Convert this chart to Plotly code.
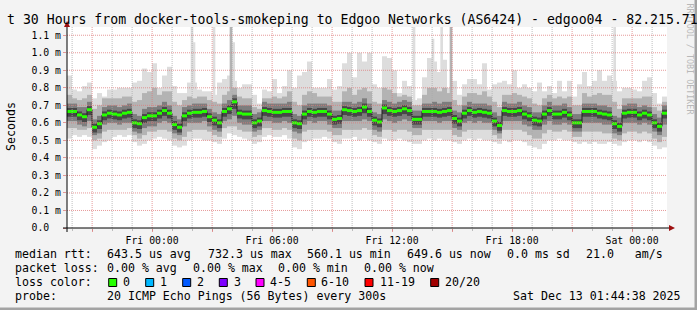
import plotly.graph_objects as go
import pandas as pd

# ------------------------------------------------------------------ data
start_time = "2025-12-11 19:44:38"
end_time = "2025-12-13 01:44:38"
bucket_minutes = 15

# median RTT per 15-minute bucket (ms)
median_rtt = [
    0.665, 0.665, 0.645, 0.635, 0.675, 0.575, 0.595, 0.645, 0.655, 0.650,
    0.645, 0.655, 0.660, 0.600, 0.595, 0.630, 0.640, 0.640, 0.655, 0.670,
    0.655, 0.590, 0.575, 0.640, 0.655, 0.660, 0.660, 0.665, 0.635, 0.615,
    0.600, 0.665, 0.680, 0.720, 0.655, 0.650, 0.650, 0.600, 0.610, 0.670,
    0.665, 0.660, 0.660, 0.665, 0.665, 0.600, 0.595, 0.650, 0.665, 0.660,
    0.665, 0.665, 0.650, 0.620, 0.625, 0.675, 0.670, 0.665, 0.670, 0.690,
    0.665, 0.615, 0.605, 0.685, 0.670, 0.665, 0.670, 0.680, 0.670, 0.620,
    0.620, 0.665, 0.665, 0.665, 0.660, 0.665, 0.670, 0.625, 0.610, 0.655,
    0.670, 0.660, 0.665, 0.660, 0.655, 0.610, 0.585, 0.670, 0.665, 0.665,
    0.670, 0.650, 0.640, 0.615, 0.610, 0.650, 0.670, 0.650, 0.650, 0.660,
    0.645, 0.600, 0.600, 0.665, 0.665, 0.665, 0.655, 0.650, 0.645, 0.595,
    0.580, 0.655, 0.660, 0.660, 0.645, 0.655, 0.645, 0.600, 0.580, 0.655,
]

# smoke: fastest / slowest ping per bucket (ms)
ping_min = [
    0.51, 0.53, 0.52, 0.53, 0.52, 0.45, 0.47, 0.49, 0.50, 0.52,
    0.53, 0.52, 0.53, 0.49, 0.47, 0.48, 0.50, 0.51, 0.52, 0.51,
    0.50, 0.47, 0.46, 0.47, 0.50, 0.51, 0.51, 0.50, 0.50, 0.49,
    0.48, 0.51, 0.54, 0.53, 0.52, 0.51, 0.50, 0.48, 0.49, 0.52,
    0.53, 0.52, 0.52, 0.53, 0.51, 0.46, 0.45, 0.49, 0.50, 0.51,
    0.51, 0.52, 0.51, 0.49, 0.48, 0.51, 0.51, 0.52, 0.50, 0.51,
    0.50, 0.49, 0.48, 0.51, 0.50, 0.50, 0.51, 0.50, 0.49, 0.48,
    0.48, 0.50, 0.51, 0.50, 0.51, 0.50, 0.50, 0.49, 0.48, 0.50,
    0.51, 0.50, 0.51, 0.50, 0.50, 0.49, 0.48, 0.50, 0.49, 0.50,
    0.50, 0.49, 0.47, 0.46, 0.45, 0.48, 0.50, 0.50, 0.51, 0.50,
    0.50, 0.49, 0.48, 0.49, 0.48, 0.49, 0.48, 0.48, 0.49, 0.48,
    0.47, 0.49, 0.50, 0.50, 0.49, 0.50, 0.49, 0.47, 0.45, 0.46,
]
ping_max = [
    0.87, 0.79, 0.78, 0.81, 0.83, 0.74, 0.77, 0.75, 0.79, 0.79,
    0.80, 0.80, 0.80, 0.83, 0.84, 0.91, 0.89, 0.94, 0.80, 0.87,
    0.92, 0.81, 0.77, 0.77, 0.83, 0.83, 0.79, 0.78, 0.78, 0.76,
    0.83, 0.85, 0.87, 0.84, 0.80, 0.82, 0.82, 0.76, 0.71, 0.79,
    0.78, 0.85, 0.77, 0.81, 0.90, 0.80, 0.87, 0.89, 0.95, 0.80,
    0.80, 0.80, 0.85, 0.79, 0.81, 0.94, 1.00, 0.86, 1.00, 0.95,
    1.00, 0.82, 0.80, 0.98, 0.97, 0.90, 0.77, 0.84, 0.81, 0.73,
    0.74, 0.86, 0.97, 0.95, 0.89, 0.96, 0.80, 0.84, 0.76, 0.82,
    0.85, 0.85, 0.82, 0.94, 0.79, 0.82, 0.83, 0.84, 0.82, 0.90,
    0.80, 0.82, 0.80, 0.78, 0.83, 0.78, 0.81, 0.77, 0.84, 0.78,
    0.84, 0.75, 0.82, 0.89, 0.81, 0.84, 0.90, 0.84, 0.87, 0.84,
    0.78, 0.80, 0.80, 0.79, 0.78, 0.84, 0.86, 0.77, 0.71, 0.75,
]
# 2nd / 19th ping
smoke2_lo = [
    0.57, 0.57, 0.56, 0.56, 0.57, 0.50, 0.51, 0.55, 0.56, 0.56,
    0.56, 0.56, 0.57, 0.53, 0.51, 0.53, 0.55, 0.55, 0.56, 0.56,
    0.55, 0.51, 0.50, 0.52, 0.55, 0.56, 0.56, 0.56, 0.55, 0.53,
    0.52, 0.57, 0.58, 0.58, 0.56, 0.55, 0.55, 0.52, 0.53, 0.57,
    0.57, 0.56, 0.56, 0.57, 0.56, 0.51, 0.50, 0.55, 0.56, 0.56,
    0.56, 0.56, 0.55, 0.53, 0.53, 0.56, 0.56, 0.56, 0.56, 0.57,
    0.56, 0.53, 0.52, 0.56, 0.56, 0.55, 0.56, 0.56, 0.55, 0.53,
    0.53, 0.56, 0.56, 0.56, 0.56, 0.56, 0.56, 0.53, 0.52, 0.55,
    0.56, 0.56, 0.56, 0.56, 0.56, 0.53, 0.51, 0.56, 0.56, 0.56,
    0.56, 0.55, 0.53, 0.51, 0.51, 0.54, 0.56, 0.55, 0.55, 0.56,
    0.55, 0.52, 0.52, 0.55, 0.55, 0.55, 0.55, 0.54, 0.54, 0.51,
    0.50, 0.54, 0.55, 0.55, 0.54, 0.55, 0.54, 0.51, 0.49, 0.52,
]
smoke2_hi = [
    0.76, 0.74, 0.73, 0.74, 0.76, 0.68, 0.70, 0.74, 0.74, 0.74,
    0.74, 0.75, 0.75, 0.72, 0.73, 0.77, 0.78, 0.80, 0.76, 0.78,
    0.78, 0.72, 0.70, 0.73, 0.75, 0.74, 0.75, 0.75, 0.73, 0.72,
    0.71, 0.76, 0.78, 0.80, 0.75, 0.74, 0.74, 0.69, 0.68, 0.74,
    0.74, 0.75, 0.74, 0.75, 0.78, 0.72, 0.70, 0.76, 0.78, 0.77,
    0.75, 0.75, 0.75, 0.72, 0.72, 0.78, 0.80, 0.76, 0.79, 0.80,
    0.78, 0.72, 0.71, 0.80, 0.79, 0.77, 0.75, 0.76, 0.75, 0.70,
    0.70, 0.76, 0.80, 0.80, 0.78, 0.80, 0.77, 0.73, 0.70, 0.75,
    0.77, 0.77, 0.76, 0.78, 0.75, 0.72, 0.69, 0.76, 0.76, 0.77,
    0.76, 0.75, 0.74, 0.71, 0.70, 0.74, 0.76, 0.74, 0.75, 0.74,
    0.75, 0.70, 0.70, 0.77, 0.75, 0.76, 0.77, 0.76, 0.76, 0.72,
    0.68, 0.74, 0.74, 0.74, 0.74, 0.75, 0.75, 0.69, 0.67, 0.72,
]
# 5th / 16th ping
smoke3_lo = [
    0.61, 0.61, 0.59, 0.58, 0.61, 0.53, 0.54, 0.59, 0.60, 0.60,
    0.59, 0.60, 0.60, 0.55, 0.54, 0.57, 0.58, 0.58, 0.60, 0.61,
    0.60, 0.54, 0.53, 0.58, 0.60, 0.60, 0.60, 0.61, 0.58, 0.56,
    0.55, 0.61, 0.62, 0.64, 0.60, 0.59, 0.59, 0.55, 0.56, 0.61,
    0.61, 0.60, 0.60, 0.61, 0.60, 0.55, 0.54, 0.59, 0.61, 0.60,
    0.61, 0.61, 0.59, 0.57, 0.57, 0.61, 0.61, 0.61, 0.61, 0.62,
    0.61, 0.56, 0.55, 0.62, 0.61, 0.60, 0.61, 0.62, 0.61, 0.57,
    0.57, 0.61, 0.61, 0.61, 0.60, 0.61, 0.61, 0.57, 0.56, 0.60,
    0.61, 0.60, 0.61, 0.60, 0.60, 0.56, 0.54, 0.61, 0.61, 0.61,
    0.61, 0.59, 0.58, 0.56, 0.56, 0.59, 0.61, 0.59, 0.59, 0.60,
    0.59, 0.55, 0.55, 0.60, 0.60, 0.60, 0.60, 0.59, 0.59, 0.54,
    0.53, 0.60, 0.60, 0.60, 0.59, 0.60, 0.59, 0.55, 0.53, 0.59,
]
smoke3_hi = [
    0.71, 0.71, 0.69, 0.69, 0.72, 0.62, 0.64, 0.69, 0.70, 0.70,
    0.69, 0.70, 0.71, 0.65, 0.64, 0.68, 0.69, 0.69, 0.70, 0.72,
    0.70, 0.64, 0.62, 0.69, 0.70, 0.71, 0.71, 0.71, 0.68, 0.66,
    0.65, 0.71, 0.73, 0.76, 0.70, 0.70, 0.70, 0.65, 0.66, 0.72,
    0.71, 0.71, 0.71, 0.71, 0.72, 0.65, 0.64, 0.70, 0.71, 0.71,
    0.71, 0.71, 0.70, 0.67, 0.67, 0.72, 0.72, 0.71, 0.72, 0.74,
    0.71, 0.66, 0.65, 0.73, 0.72, 0.71, 0.72, 0.73, 0.72, 0.67,
    0.67, 0.71, 0.71, 0.72, 0.71, 0.72, 0.72, 0.67, 0.66, 0.70,
    0.72, 0.71, 0.71, 0.71, 0.70, 0.66, 0.64, 0.72, 0.71, 0.71,
    0.72, 0.70, 0.69, 0.66, 0.66, 0.70, 0.72, 0.70, 0.70, 0.71,
    0.69, 0.65, 0.65, 0.71, 0.71, 0.71, 0.70, 0.70, 0.69, 0.64,
    0.63, 0.70, 0.71, 0.71, 0.69, 0.70, 0.69, 0.65, 0.63, 0.70,
]
# 8th / 13th ping
smoke4_lo = [
    0.635, 0.635, 0.615, 0.605, 0.645, 0.545, 0.565, 0.615, 0.625, 0.620,
    0.615, 0.625, 0.630, 0.570, 0.565, 0.600, 0.610, 0.610, 0.625, 0.640,
    0.625, 0.560, 0.545, 0.610, 0.625, 0.630, 0.630, 0.635, 0.605, 0.585,
    0.570, 0.635, 0.650, 0.680, 0.625, 0.620, 0.620, 0.570, 0.580, 0.640,
    0.635, 0.630, 0.630, 0.635, 0.635, 0.570, 0.565, 0.620, 0.635, 0.630,
    0.635, 0.635, 0.620, 0.590, 0.595, 0.645, 0.640, 0.635, 0.640, 0.655,
    0.635, 0.585, 0.575, 0.650, 0.640, 0.635, 0.640, 0.650, 0.640, 0.590,
    0.590, 0.635, 0.635, 0.635, 0.630, 0.635, 0.640, 0.595, 0.580, 0.625,
    0.640, 0.630, 0.635, 0.630, 0.625, 0.580, 0.555, 0.640, 0.635, 0.635,
    0.640, 0.620, 0.610, 0.585, 0.580, 0.620, 0.640, 0.620, 0.620, 0.630,
    0.615, 0.570, 0.570, 0.635, 0.635, 0.635, 0.625, 0.620, 0.615, 0.565,
    0.550, 0.625, 0.630, 0.630, 0.615, 0.625, 0.615, 0.570, 0.550, 0.625,
]
smoke4_hi = [
    0.685, 0.685, 0.665, 0.655, 0.695, 0.595, 0.615, 0.665, 0.675, 0.670,
    0.665, 0.675, 0.680, 0.620, 0.615, 0.650, 0.660, 0.660, 0.675, 0.690,
    0.675, 0.610, 0.595, 0.660, 0.675, 0.680, 0.680, 0.685, 0.655, 0.635,
    0.620, 0.685, 0.700, 0.740, 0.675, 0.670, 0.670, 0.620, 0.630, 0.690,
    0.685, 0.680, 0.680, 0.685, 0.685, 0.620, 0.615, 0.670, 0.685, 0.680,
    0.685, 0.685, 0.670, 0.640, 0.645, 0.695, 0.690, 0.685, 0.690, 0.710,
    0.685, 0.635, 0.625, 0.705, 0.690, 0.685, 0.690, 0.700, 0.690, 0.640,
    0.640, 0.685, 0.685, 0.685, 0.680, 0.685, 0.690, 0.645, 0.630, 0.675,
    0.690, 0.680, 0.685, 0.680, 0.675, 0.630, 0.605, 0.690, 0.685, 0.685,
    0.690, 0.670, 0.660, 0.635, 0.630, 0.670, 0.690, 0.670, 0.670, 0.680,
    0.665, 0.620, 0.620, 0.685, 0.685, 0.685, 0.675, 0.670, 0.665, 0.615,
    0.600, 0.675, 0.680, 0.680, 0.665, 0.675, 0.665, 0.620, 0.600, 0.675,
]

# single-sample outliers reaching the top of the graph (ms)
spike_times = ["2025-12-12 01:59:38", "2025-12-12 02:05:38", "2025-12-12 03:05:38",
               "2025-12-12 04:04:38", "2025-12-12 13:05:38", "2025-12-12 14:02:38",
               "2025-12-12 14:28:38", "2025-12-12 23:07:38"]
spike_values = [1.15, 1.06, 1.15, 1.06, 1.15, 1.08, 1.15, 1.15]
dense_spike_times = ["2025-12-12 03:56:38", "2025-12-12 14:56:38"]
dense_spike_values = [1.15, 1.15]

y_tick_values = [0.0, 0.1, 0.2, 0.3, 0.4, 0.5, 0.6, 0.7, 0.8, 0.9, 1.0, 1.1]
y_tick_labels = ["0.0\u00a0\u00a0", "0.1 m", "0.2 m", "0.3 m", "0.4 m", "0.5 m",
                 "0.6 m", "0.7 m", "0.8 m", "0.9 m", "1.0 m", "1.1 m"]
x_tick_times = ["2025-12-11 21:00", "2025-12-12 00:00", "2025-12-12 03:00",
                "2025-12-12 06:00", "2025-12-12 09:00", "2025-12-12 12:00",
                "2025-12-12 15:00", "2025-12-12 18:00", "2025-12-12 21:00",
                "2025-12-13 00:00"]
x_tick_labels = ["", "Fri 00:00", "", "Fri 06:00", "", "Fri 12:00", "",
                 "Fri 18:00", "", "Sat 00:00"]

title_text = "t 30 Hours from docker-tools-smokeping to Edgoo Networks (AS6424) - edgoo04 - 82.215.71"
y_title = "Seconds"
watermark = "RRDTOOL / TOBI OETIKER"

rtt_label = "median rtt:"
rtt_stats = ["643.5 us avg", "732.3 us max", "560.1 us min", "649.6 us now",
             "0.0 ms sd", "21.0   am/s"]
loss_label = "packet loss:"
loss_stats = ["0.00 % avg", "0.00 % max", "0.00 % min", "0.00 % now"]
color_label = "loss color:"
loss_names = ["0", "1", "2", "3", "4-5", "6-10", "11-19", "20/20"]
loss_colors = ["#26ff00", "#00b8ff", "#0059ff", "#7e00ff", "#ff00ff",
               "#ff5500", "#ff0000", "#a10000"]
probe_label = "probe:"
probe_text = "20 ICMP Echo Pings (56 Bytes) every 300s"
stamp_text = "Sat Dec 13 01:44:38 2025"

# ------------------------------------------------------------------ geometry
W, H = 697, 310
PL, PR, PT, PB = 67, 667, 27, 228          # plot area in pixels
Y_TOP = 1.147
MONO = "DejaVu Sans Mono"


def px2x(px):
    return (px - PL) / (PR - PL)


def py2y(py):
    return (PB - py) / (PB - PT)


def nb(s):
    return s.replace(" ", "\u00a0")


starts = pd.date_range(start_time, periods=len(median_rtt), freq=f"{bucket_minutes}min")
centers = starts + pd.Timedelta(minutes=bucket_minutes / 2)
ends = starts + pd.Timedelta(minutes=bucket_minutes)
bw = bucket_minutes * 60 * 1000

fig = go.Figure()


def band(lo, hi, color):
    fig.add_trace(go.Bar(x=centers, base=lo, y=[h - l for l, h in zip(lo, hi)],
                         width=bw, marker=dict(color=color, line=dict(width=0)),
                         hoverinfo="skip"))


band(ping_min, ping_max, "#dddddd")
fig.add_trace(go.Bar(x=pd.to_datetime(spike_times), base=[0.6] * len(spike_values),
                     y=[v - 0.6 for v in spike_values], width=8 * 60 * 1000,
                     marker=dict(color="#dddddd", line=dict(width=0)), hoverinfo="skip"))
fig.add_trace(go.Bar(x=pd.to_datetime(dense_spike_times), base=[0.6] * len(dense_spike_values),
                     y=[v - 0.6 for v in dense_spike_values], width=8 * 60 * 1000,
                     marker=dict(color="#b4b4b4", line=dict(width=0)), hoverinfo="skip"))
band(smoke2_lo, smoke2_hi, "#b3b3b3")
band(smoke3_lo, smoke3_hi, "#7d7d7d")
band(smoke4_lo, smoke4_hi, "#474747")

# thin dark median line (step)
fig.add_trace(go.Scatter(x=list(starts) + [ends[-1]], y=median_rtt + [median_rtt[-1]],
                         mode="lines", line=dict(color="#202020", width=1, shape="hv"),
                         hoverinfo="skip"))
# coloured (loss = 0) median segments
gx, gy = [], []
for s, e, m in zip(starts, ends, median_rtt):
    gx += [s, e, None]
    gy += [m, m, None]
fig.add_trace(go.Scatter(x=gx, y=gy, mode="lines",
                         line=dict(color=loss_colors[0], width=3), hoverinfo="skip"))

grid_red = "rgba(222,120,120,0.75)"
grid_gray = "rgba(170,170,170,0.75)"

fig.update_layout(
    width=W, height=H, autosize=False,
    margin=dict(l=PL, r=W - PR, t=PT, b=H - PB, pad=0),
    paper_bgcolor="#f3f3f3", plot_bgcolor="#ffffff",
    barmode="overlay", showlegend=False, hovermode=False,
    font=dict(family=MONO, color="#000000"),
    xaxis=dict(type="date", range=[start_time, end_time], fixedrange=True,
               tickmode="array", tickvals=x_tick_times, ticktext=x_tick_labels,
               showgrid=False, ticks="outside", ticklen=3, tickcolor=grid_red, tickwidth=1,
               tickfont=dict(family=MONO, size=9.8, color="#000000"),
               showline=False, zeroline=False,
               minor=dict(tickmode="linear", tick0="2025-12-11 20:00", dtick=3600000,
                          showgrid=False, ticks="outside", ticklen=2, tickcolor=grid_gray)),
    yaxis=dict(range=[0, Y_TOP], fixedrange=True,
               tickmode="array", tickvals=y_tick_values, ticktext=y_tick_labels,
               showgrid=False, ticks="outside", ticklen=3, tickcolor=grid_red, tickwidth=1,
               tickfont=dict(family=MONO, size=9.8, color="#000000"),
               showline=False, zeroline=False),
)

shapes = []
# grid drawn on top of the smoke (as rrdtool does)
hour_marks = pd.date_range("2025-12-11 20:00", "2025-12-13 01:00", freq="1h")
major_marks = set(pd.to_datetime(x_tick_times))
for t in hour_marks:
    col = grid_red if t in major_marks else grid_gray
    shapes.append(dict(type="line", xref="x", yref="paper", x0=t, x1=t, y0=0, y1=1,
                       line=dict(color=col, width=1, dash="1px,1px"), layer="above"))
for v in y_tick_values[1:]:
    shapes.append(dict(type="line", xref="paper", yref="y", x0=0, x1=1, y0=v, y1=v,
                       line=dict(color=grid_red, width=1, dash="1px,1px"), layer="above"))
# axis lines
shapes.append(dict(type="line", xref="paper", yref="paper", x0=px2x(63), x1=px2x(669),
                   y0=py2y(228), y1=py2y(228), line=dict(color="#000000", width=1)))
shapes.append(dict(type="line", xref="paper", yref="paper", x0=px2x(67), x1=px2x(67),
                   y0=py2y(232), y1=py2y(24), line=dict(color="#000000", width=1)))
# arrow heads
arrow = "#9e1010"
shapes.append(dict(type="path", xref="paper", yref="paper",
                   path=f"M {px2x(67)} {py2y(21)} L {px2x(64)} {py2y(27)} L {px2x(70)} {py2y(27)} Z",
                   fillcolor=arrow, line=dict(width=0)))
shapes.append(dict(type="path", xref="paper", yref="paper",
                   path=f"M {px2x(675)} {py2y(228)} L {px2x(669)} {py2y(225)} L {px2x(669)} {py2y(231)} Z",
                   fillcolor=arrow, line=dict(width=0)))
# 3d frame
shapes.append(dict(type="rect", xref="paper", yref="paper", x0=px2x(694.5), x1=px2x(698),
                   y0=py2y(311), y1=py2y(-1), fillcolor="#a3a3a3", line=dict(width=0)))
shapes.append(dict(type="rect", xref="paper", yref="paper", x0=px2x(-1), x1=px2x(698),
                   y0=py2y(311), y1=py2y(307.5), fillcolor="#a3a3a3", line=dict(width=0)))

annotations = []


def text(s, px, py, size=11.6, anchor="left", color="#000000", angle=0):
    annotations.append(dict(text=nb(s), x=px2x(px), y=py2y(py), xref="paper", yref="paper",
                            xanchor=anchor, yanchor="middle", showarrow=False,
                            borderpad=0, borderwidth=0, textangle=angle,
                            font=dict(family=MONO, size=size, color=color)))


text(watermark, 689.5, 59, size=8.4, anchor="center", color="#b8b8b8", angle=90)
text(title_text, 6.5, 19.5, size=13.2)
text(y_title, 11, 127, size=11.6, anchor="center", angle=-90)

row_y = [254.3, 268.3, 282.3, 296.3]
text(rtt_label, 15.3, row_y[0])
for s, px in zip(rtt_stats, [106.6, 207.6, 306.6, 406.6, 506.6, 586.0]):
    text(s, px, row_y[0])
text(loss_label, 15.3, row_y[1])
for s, px in zip(loss_stats, [106.6, 192.6, 278.3, 364.3]):
    text(s, px, row_y[1])
text(color_label, 15.3, row_y[2])
box_left = [108.7, 145.7, 182.7, 219.3, 256.0, 307.3, 365.0, 430.7]
label_left = [123.3, 160.3, 196.6, 233.6, 270.0, 321.0, 380.0, 445.0]
for name, col, bx, lx in zip(loss_names, loss_colors, box_left, label_left):
    shapes.append(dict(type="rect", xref="paper", yref="paper", x0=px2x(bx), x1=px2x(bx + 8),
                       y0=py2y(286.5), y1=py2y(278.5), fillcolor=col,
                       line=dict(color="#000000", width=1)))
    text(name, lx, row_y[2])
text(probe_label, 15.3, row_y[3])
text(probe_text, 106.6, row_y[3])
text(stamp_text, 681, row_y[3], anchor="right")

fig.update_layout(shapes=shapes, annotations=annotations)
fig.write_html("out.html")
